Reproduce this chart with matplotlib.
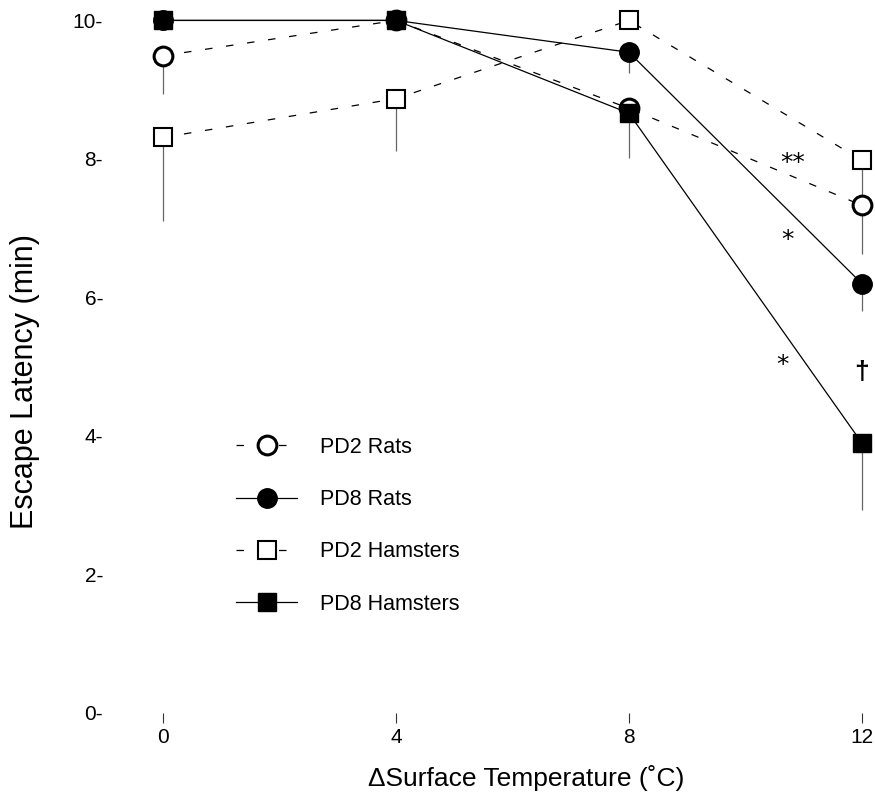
import matplotlib
matplotlib.use("Agg")
import matplotlib.pyplot as plt
import numpy as np

plt.rcParams['font.family'] = ['Liberation Sans', 'DejaVu Sans']

# datos
temp = [0, 4, 8, 12]
pd2_rats = [9.49, 10.0, 8.73, 7.33]
pd2_rats_err = [0.55, 0.0, 0.0, 0.7]
pd8_rats = [10.0, 10.0, 9.54, 6.2]
pd8_rats_err = [0.0, 0.0, 0.3, 0.4]
pd2_ham = [8.31, 8.87, 10.0, 7.98]
pd2_ham_err = [1.2, 0.75, 0.0, 0.6]
pd8_ham = [10.0, 10.0, 8.66, 3.9]
pd8_ham_err = [0.0, 0.0, 0.65, 0.97]

etiquetas = ["PD2 Rats", "PD8 Rats", "PD2 Hamsters", "PD8 Hamsters"]
y_ticks = [0, 2, 4, 6, 8, 10]
x_ticks = [0, 4, 8, 12]

# marcas de significancia: (x, y, texto)
marcas = [(10.82, 7.94, "**"), (10.73, 6.83, "*"), (10.64, 5.02, "*")]
daga = (12.0, 4.92, "\u2020")

fig = plt.figure(figsize=(8.75, 8.02), dpi=100)
ax = fig.add_axes([0.1257, 0.111, 0.8686, 0.8765])

series = [
    (pd2_rats, pd2_rats_err, "o", "white", (0, (6, 11)), 2.2, 13.5),
    (pd8_rats, pd8_rats_err, "o", "black", "-", 1.0, 14),
    (pd2_ham, pd2_ham_err, "s", "white", (0, (6, 11)), 1.5, 13),
    (pd8_ham, pd8_ham_err, "s", "black", "-", 1.0, 13.5),
]

handles = []
for (y, err, mk, fc, ls, mew, ms), lab in zip(series, etiquetas):
    low = np.array(err)
    ax.errorbar(temp, y, yerr=[low, np.zeros(len(low))], fmt="none",
                ecolor="#666666", elinewidth=0.9, capsize=0, zorder=1, clip_on=False)
    h, = ax.plot(temp, y, linestyle=ls, color="black", linewidth=0.9,
                 marker=mk, markersize=ms, markerfacecolor=fc,
                 markeredgecolor="black", markeredgewidth=mew,
                 label=lab, zorder=3, clip_on=False)
    handles.append(h)

for x, y, t in marcas:
    ax.text(x, y, t, fontsize=18, ha="center", va="center", family="DejaVu Sans")
ax.text(daga[0], daga[1], daga[2], fontsize=19, ha="center", va="center", fontweight="bold")

ax.set_xlim(-0.91, 12.14)
ax.set_ylim(0, 10.15)

ax.set_yticks(y_ticks)
ax.set_yticklabels([str(v) + "-" for v in y_ticks], fontsize=15)
ax.tick_params(axis="y", length=0, pad=5)
ax.set_xticks(x_ticks)
ax.set_xticklabels([str(v) for v in x_ticks], fontsize=15)
ax.tick_params(axis="x", length=7, width=0.8, color="#333333", pad=4)

for s in ax.spines.values():
    s.set_visible(False)

ax.set_ylabel("Escape Latency (min)", fontsize=22)
ax.yaxis.set_label_coords(-0.092, 0.471)
ax.set_xlabel("\u0394Surface Temperature (\u02daC)", fontsize=19)
ax.xaxis.set_label_coords(0.547, -0.074)

ax.legend(handles=handles, loc="upper left", bbox_to_anchor=(0.155, 0.405),
          frameon=False, fontsize=15.5, handlelength=2.8, labelspacing=1.45,
          handletextpad=1.07, borderaxespad=0)

plt.savefig("out.png", dpi=100)
